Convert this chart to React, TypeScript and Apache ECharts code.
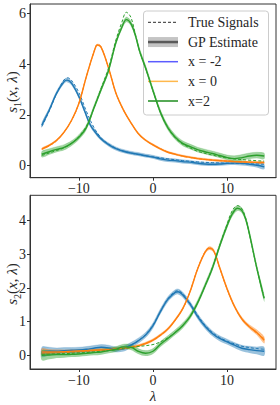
import React, { useEffect, useRef } from "react";
import * as echarts from "echarts";

// ---------- data ----------
const X_TICKS = [-10, 0, 10];
const Y1_TICKS = [0, 2, 4, 6];
const Y2_TICKS = [0, 1, 2, 3, 4];
const LEGEND_LABELS = ["True Signals", "GP Estimate", "x = -2", "x = 0", "x=2"];

// GP estimate points: [lambda, mean, half-width of band]
const S1_XM2_GP = [
  [-15, 1.6, 0.1], [-14, 2.19, 0.08], [-13, 2.86, 0.08], [-12, 3.31, 0.08], [-11.6, 3.37, 0.08],
  [-11, 3.25, 0.08], [-10, 2.72, 0.08], [-9.2, 2.13, 0.08], [-8.5, 1.62, 0.08], [-8, 1.4, 0.08],
  [-7, 1.05, 0.07], [-6, 0.83, 0.07], [-5, 0.67, 0.07], [-4, 0.57, 0.07], [-3, 0.5, 0.07],
  [-2, 0.45, 0.07], [-1, 0.39, 0.07], [0, 0.34, 0.07], [1, 0.27, 0.07], [2, 0.22, 0.07],
  [3, 0.2, 0.07], [4, 0.16, 0.07], [5, 0.14, 0.07], [6, 0.1, 0.07], [7, 0.07, 0.07],
  [8, 0.06, 0.07], [9, 0.07, 0.07], [10, 0.09, 0.07], [11, 0.1, 0.07], [12, 0.09, 0.08],
  [13, 0.06, 0.08], [14, 0.02, 0.09], [15, -0.04, 0.1],
];
const S1_XM2_TRUE = [
  [-15, 1.55], [-14, 2.15], [-13, 2.85], [-12, 3.38], [-11.5, 3.46], [-11, 3.36], [-10, 2.88],
  [-9, 2.15], [-8, 1.52], [-7, 1.1], [-6, 0.85], [-5, 0.69], [-4, 0.58], [-3, 0.5], [-2, 0.44],
  [-1, 0.39], [0, 0.35], [2, 0.27], [4, 0.2], [6, 0.15], [8, 0.12], [10, 0.1], [12, 0.08], [15, 0.06],
];

const S1_X0_GP = [
  [-15, 0.66, 0.04], [-14, 0.8, 0.04], [-13, 1.0, 0.04], [-12, 1.32, 0.04], [-11, 1.78, 0.04],
  [-10, 2.45, 0.04], [-9, 3.5, 0.04], [-8, 4.45, 0.04], [-7.5, 4.75, 0.04], [-7, 4.66, 0.04],
  [-6, 3.85, 0.04], [-5, 2.85, 0.04], [-4, 2.2, 0.04], [-3, 1.7, 0.04], [-2, 1.27, 0.04],
  [-1, 1.0, 0.04], [0, 0.82, 0.04], [1, 0.66, 0.04], [2, 0.53, 0.04], [3, 0.45, 0.04],
  [4, 0.38, 0.04], [5, 0.33, 0.04], [6, 0.28, 0.04], [7, 0.25, 0.04], [8, 0.22, 0.04],
  [9, 0.2, 0.04], [10, 0.18, 0.04], [11, 0.16, 0.04], [12, 0.15, 0.04], [13, 0.14, 0.04],
  [14, 0.13, 0.04], [15, 0.12, 0.05],
];
const S1_X0_TRUE = [
  [-15, 0.64], [-13, 0.98], [-11, 1.78], [-10, 2.47], [-9, 3.5], [-8, 4.45], [-7.5, 4.78],
  [-7, 4.68], [-6, 3.85], [-5, 2.85], [-4, 2.2], [-3, 1.7], [-2, 1.27], [-1, 1.0], [0, 0.82],
  [2, 0.54], [4, 0.38], [6, 0.28], [8, 0.22], [10, 0.18], [12, 0.15], [15, 0.12],
];

const S1_X2_GP = [
  [-15, 0.45, 0.12], [-14, 0.55, 0.12], [-13, 0.64, 0.11], [-12, 0.72, 0.11], [-11, 0.88, 0.1],
  [-10, 1.12, 0.1], [-9, 1.5, 0.1], [-8, 2.25, 0.1], [-7, 3.0, 0.1], [-6, 3.75, 0.1],
  [-5, 4.85, 0.1], [-4.2, 5.45, 0.1], [-3.6, 5.75, 0.1], [-3, 5.6, 0.1], [-2.4, 5.15, 0.1],
  [-1.8, 4.5, 0.1], [-1, 3.85, 0.1], [0, 2.95, 0.1], [1, 2.1, 0.1], [2, 1.5, 0.1],
  [3, 1.12, 0.1], [4, 0.88, 0.1], [5, 0.75, 0.1], [6, 0.63, 0.1], [7, 0.55, 0.1],
  [8, 0.48, 0.1], [9, 0.4, 0.1], [10, 0.32, 0.1], [11, 0.28, 0.11], [12, 0.32, 0.12],
  [13, 0.38, 0.12], [14, 0.41, 0.12], [15, 0.38, 0.12],
];
const S1_X2_TRUE = [
  [-15, 0.4], [-14, 0.5], [-13, 0.6], [-12, 0.7], [-11, 0.88], [-10, 1.15], [-9, 1.55],
  [-8, 2.25], [-7, 3.05], [-6, 3.85], [-5, 4.95], [-4.2, 5.65], [-3.6, 6.04], [-3, 5.85],
  [-2.4, 5.2], [-1.8, 4.5], [-1, 3.85], [0, 2.95], [1, 2.1], [2, 1.5], [3, 1.1], [4, 0.85],
  [5, 0.7], [6, 0.57], [8, 0.42], [10, 0.3], [12, 0.24], [15, 0.18],
];

const S2_XM2_GP = [
  [-15, 0.1, 0.15], [-14, 0.12, 0.12], [-13, 0.12, 0.1], [-12, 0.14, 0.09], [-11, 0.15, 0.08],
  [-10, 0.16, 0.08], [-9, 0.18, 0.08], [-8, 0.21, 0.08], [-7, 0.24, 0.08], [-6, 0.22, 0.08],
  [-5, 0.17, 0.08], [-4, 0.19, 0.08], [-3, 0.3, 0.08], [-2, 0.43, 0.08], [-1, 0.6, 0.08],
  [0, 0.88, 0.08], [1, 1.3, 0.08], [2, 1.66, 0.08], [3, 1.87, 0.08], [3.4, 1.89, 0.08],
  [4, 1.8, 0.08], [5, 1.52, 0.08], [6, 1.16, 0.08], [7, 0.87, 0.08], [8, 0.65, 0.08],
  [9, 0.5, 0.08], [10, 0.4, 0.08], [11, 0.3, 0.08], [12, 0.21, 0.09], [13, 0.17, 0.1],
  [14, 0.14, 0.11], [15, 0.12, 0.13],
];
const S2_XM2_TRUE = [
  [-15, 0.05], [-12, 0.08], [-10, 0.1], [-8, 0.13], [-6, 0.16], [-4, 0.22], [-3, 0.3],
  [-2, 0.43], [-1, 0.62], [0, 0.9], [1, 1.3], [2, 1.68], [3, 1.9], [3.4, 1.92], [4, 1.83],
  [5, 1.55], [6, 1.2], [7, 0.9], [8, 0.68], [9, 0.53], [10, 0.42], [11, 0.34], [12, 0.27],
  [13, 0.23], [14, 0.2], [15, 0.18],
];

const S2_X0_GP = [
  [-15, 0.1, 0.1], [-14, 0.1, 0.07], [-12, 0.11, 0.05], [-10, 0.13, 0.04], [-8, 0.15, 0.04],
  [-6, 0.17, 0.04], [-5, 0.19, 0.04], [-4, 0.21, 0.04], [-3, 0.24, 0.04], [-2, 0.28, 0.04],
  [-1, 0.35, 0.04], [0, 0.45, 0.04], [1, 0.6, 0.04], [2, 0.78, 0.04], [3, 1.05, 0.04],
  [4, 1.38, 0.04], [5, 1.89, 0.04], [6, 2.55, 0.04], [7, 3.05, 0.04], [7.6, 3.18, 0.05],
  [8.2, 3.1, 0.05], [9, 2.6, 0.05], [10, 1.97, 0.05], [11, 1.45, 0.05], [12, 1.08, 0.05],
  [13, 0.85, 0.06], [14, 0.68, 0.08], [15, 0.45, 0.1],
];
const S2_X0_TRUE = [
  [-15, 0.05], [-12, 0.08], [-10, 0.1], [-8, 0.13], [-6, 0.16], [-4, 0.2], [-2, 0.28],
  [0, 0.45], [2, 0.78], [4, 1.38], [5, 1.9], [6, 2.56], [7, 3.07], [7.6, 3.2], [8.2, 3.1],
  [9, 2.6], [10, 1.97], [11, 1.45], [12, 1.08], [13, 0.85], [14, 0.66], [15, 0.5],
];

const S2_X2_GP = [
  [-15, 0.0, 0.15], [-14, 0.01, 0.13], [-13, 0.02, 0.1], [-12, 0.02, 0.09], [-11, 0.03, 0.08],
  [-10, 0.04, 0.08], [-9, 0.06, 0.08], [-8, 0.08, 0.08], [-7, 0.1, 0.08], [-6, 0.14, 0.08],
  [-5, 0.18, 0.08], [-4, 0.25, 0.08], [-3, 0.24, 0.08], [-2, 0.12, 0.08], [-1, 0.06, 0.08],
  [0, 0.12, 0.08], [1, 0.33, 0.08], [2, 0.5, 0.08], [3, 0.68, 0.08], [4, 0.88, 0.08],
  [5, 1.15, 0.08], [6, 1.55, 0.08], [7, 2.05, 0.08], [8, 2.58, 0.08], [9, 3.25, 0.08],
  [10, 3.85, 0.08], [10.7, 4.2, 0.08], [11.4, 4.37, 0.08], [12, 4.3, 0.08], [12.5, 4.05, 0.08],
  [13, 3.62, 0.08], [14, 2.6, 0.08], [15, 1.69, 0.1],
];
const S2_X2_TRUE = [
  [-15, 0.03], [-12, 0.05], [-10, 0.07], [-8, 0.1], [-6, 0.14], [-4, 0.2], [-2, 0.26], [0, 0.32],
  [1, 0.4], [2, 0.52], [3, 0.68], [4, 0.88], [5, 1.15], [6, 1.55], [7, 2.05], [8, 2.6],
  [9, 3.27], [10, 3.9], [10.7, 4.3], [11.4, 4.45], [12, 4.35], [12.5, 4.08], [13, 3.62],
  [14, 2.6], [15, 1.7],
];

// ---------- styling ----------
const BLUE = "#1f77b4";
const ORANGE = "#ff7f0e";
const GREEN = "#2ca02c";
const FONT = "'Liberation Serif', 'DejaVu Serif', serif";
const TEXT = "#262626";
const FRAME = "#333333";
const SMOOTH = 0.35;

function curveSeries(
  gp: number[][],
  truth: number[][],
  color: string,
  idx: number,
  key: string
): any[] {
  const common = { xAxisIndex: idx, yAxisIndex: idx, silent: true };
  return [
    {
      ...common,
      type: "custom",
      name: key + "-band",
      clip: true,
      data: gp.map((p) => [p[0], p[1], p[2]]),
      encode: { x: 0, y: 1 },
      renderItem: (params: any, api: any) => {
        if (params.dataIndex !== 0) return null;
        const up = gp.map((p) => api.coord([p[0], p[1] + p[2]]));
        const lo = gp.map((p) => api.coord([p[0], p[1] - p[2]])).reverse();
        return {
          type: "group",
          children: [
            {
              type: "polyline",
              shape: { points: up, smooth: SMOOTH },
              style: { stroke: color, opacity: 0.3, lineWidth: 0.6, fill: "none" },
            },
            {
              type: "polygon",
              shape: { points: up.concat(lo), smooth: SMOOTH },
              style: { fill: color, opacity: 0.45 },
            },
          ],
        };
      },
    },
    {
      ...common,
      type: "line",
      name: key + "-true",
      symbol: "none",
      smooth: SMOOTH,
      data: truth.map((p) => [p[0], p[1]]),
      lineStyle: { color, width: 1, type: [3, 2] },
    },
    {
      ...common,
      type: "line",
      name: key + "-mean",
      symbol: "none",
      smooth: SMOOTH,
      data: gp.map((p) => [p[0], p[1]]),
      lineStyle: { color, width: 1.4 },
    },
  ];
}

function xAxisDef(idx: number) {
  return {
    type: "value",
    gridIndex: idx,
    min: -16.6,
    max: 16.6,
    splitLine: { show: false },
    axisLine: { show: true, onZero: false, lineStyle: { color: FRAME, width: 1 } },
    axisTick: { show: true, customValues: X_TICKS, length: 3, lineStyle: { color: FRAME, width: 1 } },
    axisLabel: {
      customValues: X_TICKS,
      margin: 4,
      color: TEXT,
      fontFamily: FONT,
      fontSize: 14,
      formatter: (v: number) => String(v).replace("-", "\u2212"),
    },
  };
}

function yAxisDef(idx: number, min: number, max: number, ticks: number[]) {
  return {
    type: "value",
    gridIndex: idx,
    min,
    max,
    splitLine: { show: false },
    axisLine: { show: true, onZero: false, lineStyle: { color: FRAME, width: 1 } },
    axisTick: { show: true, customValues: ticks, length: 3, lineStyle: { color: FRAME, width: 1 } },
    axisLabel: {
      customValues: ticks,
      margin: 4,
      color: TEXT,
      fontFamily: FONT,
      fontSize: 14,
    },
  };
}

function yLabel(sub: string, y: number) {
  return {
    type: "text",
    x: 12,
    y,
    rotation: Math.PI / 2,
    z: 50,
    style: {
      text: `{i|s}{sub|${sub}}{n|(}{i|x}{n|, }{i|λ}{n|)}`,
      align: "center",
      verticalAlign: "middle",
      fill: TEXT,
      rich: {
        i: { fontFamily: FONT, fontStyle: "italic", fontSize: 15, fill: TEXT, lineHeight: 20, verticalAlign: "middle" },
        n: { fontFamily: FONT, fontSize: 15, fill: TEXT, lineHeight: 20, verticalAlign: "middle" },
        sub: { fontFamily: FONT, fontSize: 10, fill: TEXT, lineHeight: 20, verticalAlign: "bottom" },
      },
    },
  };
}

function legendGraphic() {
  const x0 = 148;
  const x1 = 178;
  const rowY = (i: number) => 22.4 + 19.65 * i;
  const children: any[] = [
    {
      type: "rect",
      shape: { x: 143.5, y: 11, width: 125, height: 104, r: 3 },
      style: { fill: "rgba(255,255,255,0.8)", stroke: "#cccccc", lineWidth: 1 },
    },
    {
      type: "line",
      shape: { x1: x0, y1: rowY(0), x2: x1, y2: rowY(0) },
      style: { stroke: "#555555", lineWidth: 1.2, lineDash: [3, 2] },
    },
    {
      type: "rect",
      shape: { x: x0, y: rowY(1) - 5, width: x1 - x0, height: 10 },
      style: { fill: "#c4c4c4" },
    },
    {
      type: "line",
      shape: { x1: x0, y1: rowY(1), x2: x1, y2: rowY(1) },
      style: { stroke: "#5a5a5a", lineWidth: 2.5 },
    },
    {
      type: "line",
      shape: { x1: x0, y1: rowY(2), x2: x1, y2: rowY(2) },
      style: { stroke: "#5c5cff", lineWidth: 1.5 },
    },
    {
      type: "line",
      shape: { x1: x0, y1: rowY(3), x2: x1, y2: rowY(3) },
      style: { stroke: "#ffb84d", lineWidth: 1.5 },
    },
    {
      type: "line",
      shape: { x1: x0, y1: rowY(4), x2: x1, y2: rowY(4) },
      style: { stroke: "#1e8c1e", lineWidth: 1.5 },
    },
  ];
  LEGEND_LABELS.forEach((label, i) => {
    children.push({
      type: "text",
      x: 188,
      y: rowY(i),
      style: {
        text: label,
        fontFamily: FONT,
        fontSize: 14,
        fill: TEXT,
        verticalAlign: "middle",
        align: "left",
      },
    });
  });
  return { type: "group", z: 100, children };
}

export default function App() {
  const ref = useRef<HTMLDivElement>(null);

  useEffect(() => {
    if (!ref.current) return;
    const chart = echarts.init(ref.current, undefined, { renderer: "svg" });
    const option: any = {
      animation: false,
      backgroundColor: "#ffffff",
      grid: [
        { left: 30, top: 4, width: 246, height: 173.7, show: true, borderColor: FRAME, borderWidth: 1, backgroundColor: "transparent" },
        { left: 30, top: 195.3, width: 246, height: 173.7, show: true, borderColor: FRAME, borderWidth: 1, backgroundColor: "transparent" },
      ],
      xAxis: [xAxisDef(0), xAxisDef(1)],
      yAxis: [yAxisDef(0, -0.472, 6.366, Y1_TICKS), yAxisDef(1, -0.407, 4.755, Y2_TICKS)],
      series: [
        ...curveSeries(S1_XM2_GP, S1_XM2_TRUE, BLUE, 0, "s1a"),
        ...curveSeries(S1_X0_GP, S1_X0_TRUE, ORANGE, 0, "s1b"),
        ...curveSeries(S1_X2_GP, S1_X2_TRUE, GREEN, 0, "s1c"),
        ...curveSeries(S2_XM2_GP, S2_XM2_TRUE, BLUE, 1, "s2a"),
        ...curveSeries(S2_X0_GP, S2_X0_TRUE, ORANGE, 1, "s2b"),
        ...curveSeries(S2_X2_GP, S2_X2_TRUE, GREEN, 1, "s2c"),
      ],
      graphic: [
        yLabel("1", 92),
        yLabel("2", 284),
        {
          type: "text",
          x: 153,
          y: 396,
          style: {
            text: "λ",
            fontFamily: FONT,
            fontStyle: "italic",
            fontSize: 15,
            fill: TEXT,
            align: "center",
            verticalAlign: "middle",
          },
        },
        legendGraphic(),
      ],
    };
    chart.setOption(option);
    return () => chart.dispose();
  }, []);

  return (
    <div
      ref={ref}
      style={{ position: "absolute", left: 0, top: 0, width: 280, height: 405, background: "#fff" }}
    />
  );
}
